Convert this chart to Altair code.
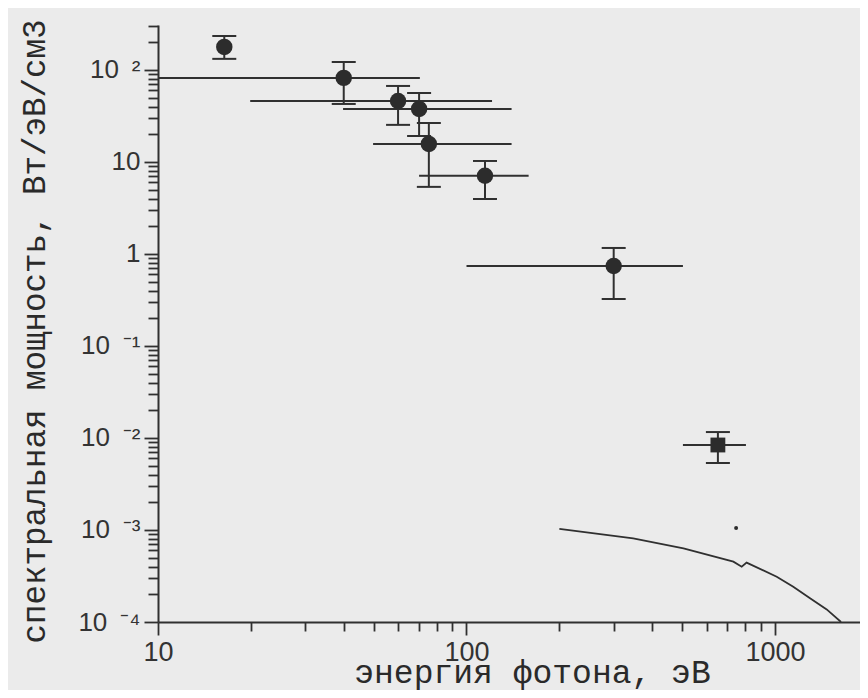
import altair as alt
import pandas as pd

# ---- data ----
# circle points (energy, eV ; spectral power, W/eV/cm3)
circ_energy = [16.4, 40, 60, 70.2, 75.5, 114.8, 300]
circ_power = [178, 82, 46, 37.7, 15.7, 7.07, 0.741]
circ_power_hi = [234, 122, 67, 56.2, 26.5, 10.25, 1.162]
circ_power_lo = [132, 42.7, 25.3, 19.2, 5.36, 3.96, 0.324]
circ_energy_lo = [None, 10, 19.9, 39.8, 49.8, 70.2, 100]
circ_energy_hi = [None, 70.6, 121, 140, 140, 159, 503]

# square point
sq_energy = [653]
sq_power = [0.00839]
sq_power_hi = [0.0116]
sq_power_lo = [0.00535]
sq_energy_lo = [503]
sq_energy_hi = [805]

# small dot
dot_energy = [748]
dot_power = [0.00105]

# curve
curve_energy = [200, 347, 505, 733, 780, 809, 1013, 1146, 1299, 1471, 1637]
curve_power = [0.001026, 0.000812, 0.000632, 0.000453, 0.000399, 0.000442,
               0.000310, 0.000242, 0.000181, 0.000137, 0.0001]

# axis ticks
x_ticks = [k * 10 ** e for e in (1, 2) for k in range(1, 10)] + [1000]
y_ticks = [round(k * 10.0 ** e, 8) for e in range(-4, 2) for k in range(1, 10)] + [100, 200, 300]

INK = "#303030"

pts = pd.DataFrame(dict(e=circ_energy, p=circ_power, phi=circ_power_hi, plo=circ_power_lo,
                        elo=circ_energy_lo, ehi=circ_energy_hi))
sq = pd.DataFrame(dict(e=sq_energy, p=sq_power, phi=sq_power_hi, plo=sq_power_lo,
                       elo=sq_energy_lo, ehi=sq_energy_hi))
allpts = pd.concat([pts, sq], ignore_index=True)
hb = allpts.dropna(subset=["elo"])
dot = pd.DataFrame(dict(e=dot_energy, p=dot_power))
curve = pd.DataFrame(dict(e=curve_energy, p=curve_power))

xscale = alt.Scale(type="log", domain=[10, 1886], nice=False)
yscale = alt.Scale(type="log", domain=[0.0001, 308], nice=False)

dec_test = "abs(log(datum.value)/LN10 - round(log(datum.value)/LN10)) < 0.000001"
ylab = ("(" + dec_test + ") ? ("
        "round(log(datum.value)/LN10) == 2 ? '10\u2002\u00b2' : "
        "round(log(datum.value)/LN10) == 1 ? '10\u2002' : "
        "round(log(datum.value)/LN10) == 0 ? '1\u2002' : "
        "round(log(datum.value)/LN10) == -1 ? '10\u2002\u207b\u00b9' : "
        "round(log(datum.value)/LN10) == -2 ? '10\u2002\u207b\u00b2' : "
        "round(log(datum.value)/LN10) == -3 ? '10\u2002\u207b\u00b3' : "
        "'10\u2002\u207b\u2074') : ''")
xlab = "(" + dec_test + ") ? format(datum.value, 'd') : ''"

x_axis = alt.Axis(values=x_ticks, labelExpr=xlab, title="энергия фотона, эВ",
                  tickSize={"condition": {"test": dec_test, "value": 13}, "value": 9},
                  labelPadding=4, labelFontSize=27, labelFlush=False,
                  titleX=374, titleY=60, titleBaseline="alphabetic", titleAlign="center",
                  titleFontSize=33)
y_axis = alt.Axis(values=y_ticks, labelExpr=ylab, title="спектральная мощность, Вт/эВ/см3",
                  tickSize={"condition": {"test": dec_test, "value": 14}, "value": 10},
                  labelPadding=4, labelFontSize=26, labelBaseline="middle", labelFlush=False,
                  titleX=-114, titleY=306, titleBaseline="alphabetic", titleAlign="center",
                  titleAngle=270, titleFontSize=32.5)

X = lambda f: alt.X(f, type="quantitative", scale=xscale, axis=x_axis)
Y = lambda f: alt.Y(f, type="quantitative", scale=yscale, axis=y_axis)

hbars = alt.Chart(hb).mark_rule(color=INK, strokeWidth=2, clip=True).encode(
    x=X("elo"), x2="ehi", y=Y("p"))
vbars = alt.Chart(allpts).mark_rule(color=INK, strokeWidth=2, clip=True).encode(
    x=X("e"), y=Y("plo"), y2="phi")
cap_hi = alt.Chart(allpts).mark_tick(orient="horizontal", size=24, thickness=2, color=INK, opacity=1).encode(
    x=X("e"), y=Y("phi"))
cap_lo = alt.Chart(allpts).mark_tick(orient="horizontal", size=24, thickness=2, color=INK, opacity=1).encode(
    x=X("e"), y=Y("plo"))
circles = alt.Chart(pts).mark_circle(size=270, color="#2c2c2c", opacity=1).encode(
    x=X("e"), y=Y("p"))
square = alt.Chart(sq).mark_square(size=220, color="#2c2c2c", opacity=1).encode(
    x=X("e"), y=Y("p"))
dotm = alt.Chart(dot).mark_circle(size=16, color="#2c2c2c", opacity=1).encode(
    x=X("e"), y=Y("p"))
line = alt.Chart(curve).mark_line(color=INK, strokeWidth=1.8, clip=True).encode(
    x=X("e"), y=Y("p"))

chart = alt.layer(line, hbars, vbars, cap_hi, cap_lo, circles, square, dotm).properties(
    width=702, height=597, autosize="none",
    padding={"left": 150, "top": 17, "right": 0, "bottom": 68},
    background="#ebebeb",
).configure_view(stroke=None).configure_axis(
    grid=False, domainColor=INK, domainWidth=2, tickColor=INK, tickWidth=1.8,
    labelFont="Liberation Sans", labelColor="#333333",
    titleFont="Liberation Mono", titleFontWeight="normal", titleColor="#2a2a2a",
)

chart.save("out.html", embed_options={"renderer": "svg", "actions": False})
